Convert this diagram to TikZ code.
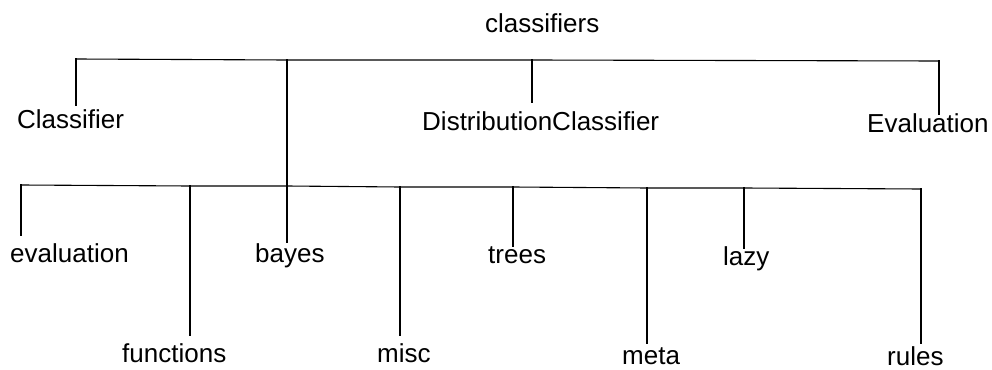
\documentclass[tikz,border=0pt]{standalone}
\usepackage{fontspec}
\setmainfont{Liberation Sans}
\usetikzlibrary{calc}
\tikzset{
  lbl/.style={anchor=base west, inner sep=0pt, text height=18.7pt,
    font=\fontsize{26}{30}\selectfont},
  conn/.style={line width=1.1pt, line cap=rect}
}
\begin{document}
\begin{tikzpicture}[x=1pt,y=-1pt]
\useasboundingbox (0,0) rectangle (992,369);
% labels
\node[lbl] (root) at (485,33) {classifiers};
\node[lbl] (clf) at (17,128) {Classifier};
\node[lbl] (dist) at (422,130) {DistributionClassifier};
\node[lbl] (Eval) at (867,132) {Evaluation};
\node[lbl] (eval) at (10,262) {evaluation};
\node[lbl] (func) at (122,362) {functions};
\node[lbl] (bayes) at (255,262) {bayes};
\node[lbl] (misc) at (377,362) {misc};
\node[lbl] (trees) at (488,263) {trees};
\node[lbl] (meta) at (622,364) {meta};
\node[lbl] (lazy) at (723,265) {lazy};
\node[lbl] (rules) at (887,365) {rules};
% bus coordinates
\coordinate (tA) at (76,59);
\coordinate (tB) at (287,60);
\coordinate (tC) at (532,60);
\coordinate (tD) at (939,61);
\coordinate (bA) at (21,185);
\coordinate (bB) at (190,186);
\coordinate (bC) at (287,186);
\coordinate (bD) at (400,187);
\coordinate (bE) at (513,187);
\coordinate (bF) at (647,188);
\coordinate (bG) at (744,188);
\coordinate (bH) at (921,189);
% buses
\draw[conn] (tA) -- (tB) -- (tC) -- (tD);
\draw[conn] (bA) -- (bB) -- (bC) -- (bD) -- (bE) -- (bF) -- (bG) -- (bH);
\draw[conn] (tB) -- (bC);
% branches
\draw[conn] (tA) -- ($(tA |- clf.north)+(0,-4)$);
\draw[conn] (tC) -- ($(tC |- dist.north)+(0,-9)$);
\draw[conn] (tD) -- ($(tD |- Eval.north)+(0,1)$);
\draw[conn] (bA) -- ($(bA |- eval.north)+(0,-8)$);
\draw[conn] (bB) -- ($(bB |- func.north)+(0,-8)$);
\draw[conn] (bC) -- ($(bC |- bayes.north)+(0,-1)$);
\draw[conn] (bD) -- ($(bD |- misc.north)+(0,-8)$);
\draw[conn] (bE) -- ($(bE |- trees.north)+(0,2)$);
\draw[conn] (bF) -- ($(bF |- meta.north)+(0,-2)$);
\draw[conn] (bG) -- ($(bG |- lazy.north)+(0,2)$);
\draw[conn] (bH) -- ($(bH |- rules.north)+(0,-3)$);
\end{tikzpicture}
\end{document}
